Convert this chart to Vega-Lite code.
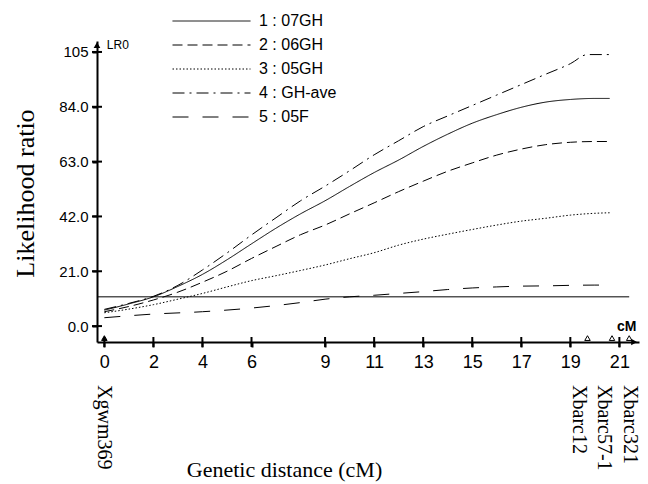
{
  "$schema": "https://vega.github.io/schema/vega-lite/v6.json",
  "width": 542,
  "height": 301,
  "autosize": {"type": "none"},
  "padding": {"left": 97, "top": 41, "right": 9, "bottom": 142},
  "background": "white",
  "config": {
    "view": {"stroke": null},
    "axis": {"grid": false, "domainColor": "black", "tickColor": "black", "labelColor": "black", "titleColor": "black"}
  },
  "datasets": {
    "curves": [
      {"series": "1 : 07GH", "cM": 0, "LR": 6.1}, {"series": "1 : 07GH", "cM": 1, "LR": 8.5}, {"series": "1 : 07GH", "cM": 2, "LR": 11.2}, {"series": "1 : 07GH", "cM": 3, "LR": 15.2}, {"series": "1 : 07GH", "cM": 4, "LR": 19.8}, {"series": "1 : 07GH", "cM": 5, "LR": 25.4}, {"series": "1 : 07GH", "cM": 6, "LR": 31.5}, {"series": "1 : 07GH", "cM": 7, "LR": 37.5}, {"series": "1 : 07GH", "cM": 8, "LR": 43}, {"series": "1 : 07GH", "cM": 9, "LR": 48}, {"series": "1 : 07GH", "cM": 10, "LR": 53.5}, {"series": "1 : 07GH", "cM": 11, "LR": 58.8}, {"series": "1 : 07GH", "cM": 12, "LR": 63.6}, {"series": "1 : 07GH", "cM": 13, "LR": 68.8}, {"series": "1 : 07GH", "cM": 14, "LR": 73.5}, {"series": "1 : 07GH", "cM": 15, "LR": 77.7}, {"series": "1 : 07GH", "cM": 16, "LR": 81}, {"series": "1 : 07GH", "cM": 17, "LR": 83.8}, {"series": "1 : 07GH", "cM": 18, "LR": 85.8}, {"series": "1 : 07GH", "cM": 19, "LR": 86.8}, {"series": "1 : 07GH", "cM": 20, "LR": 87.2}, {"series": "1 : 07GH", "cM": 20.6, "LR": 87.2},
      {"series": "2 : 06GH", "cM": 0, "LR": 5.5}, {"series": "2 : 06GH", "cM": 1, "LR": 7.5}, {"series": "2 : 06GH", "cM": 2, "LR": 10}, {"series": "2 : 06GH", "cM": 3, "LR": 13}, {"series": "2 : 06GH", "cM": 4, "LR": 16.8}, {"series": "2 : 06GH", "cM": 5, "LR": 21}, {"series": "2 : 06GH", "cM": 6, "LR": 25.9}, {"series": "2 : 06GH", "cM": 7, "LR": 30.5}, {"series": "2 : 06GH", "cM": 8, "LR": 35}, {"series": "2 : 06GH", "cM": 9, "LR": 38.7}, {"series": "2 : 06GH", "cM": 10, "LR": 43}, {"series": "2 : 06GH", "cM": 11, "LR": 47.2}, {"series": "2 : 06GH", "cM": 12, "LR": 51.5}, {"series": "2 : 06GH", "cM": 13, "LR": 55.5}, {"series": "2 : 06GH", "cM": 14, "LR": 59.3}, {"series": "2 : 06GH", "cM": 15, "LR": 62.5}, {"series": "2 : 06GH", "cM": 16, "LR": 65.5}, {"series": "2 : 06GH", "cM": 17, "LR": 67.8}, {"series": "2 : 06GH", "cM": 18, "LR": 69.5}, {"series": "2 : 06GH", "cM": 19, "LR": 70.4}, {"series": "2 : 06GH", "cM": 20, "LR": 70.7}, {"series": "2 : 06GH", "cM": 20.6, "LR": 70.7},
      {"series": "3 : 05GH", "cM": 0, "LR": 5.1}, {"series": "3 : 05GH", "cM": 1, "LR": 6.5}, {"series": "3 : 05GH", "cM": 2, "LR": 8.2}, {"series": "3 : 05GH", "cM": 3, "LR": 10.3}, {"series": "3 : 05GH", "cM": 4, "LR": 12.5}, {"series": "3 : 05GH", "cM": 5, "LR": 15}, {"series": "3 : 05GH", "cM": 6, "LR": 17.4}, {"series": "3 : 05GH", "cM": 7, "LR": 19.3}, {"series": "3 : 05GH", "cM": 8, "LR": 21.3}, {"series": "3 : 05GH", "cM": 9, "LR": 23.4}, {"series": "3 : 05GH", "cM": 10, "LR": 25.8}, {"series": "3 : 05GH", "cM": 11, "LR": 28.1}, {"series": "3 : 05GH", "cM": 12, "LR": 31}, {"series": "3 : 05GH", "cM": 13, "LR": 33.3}, {"series": "3 : 05GH", "cM": 14, "LR": 35.2}, {"series": "3 : 05GH", "cM": 15, "LR": 37}, {"series": "3 : 05GH", "cM": 16, "LR": 38.7}, {"series": "3 : 05GH", "cM": 17, "LR": 40.2}, {"series": "3 : 05GH", "cM": 18, "LR": 41.3}, {"series": "3 : 05GH", "cM": 19, "LR": 42.5}, {"series": "3 : 05GH", "cM": 20, "LR": 43.2}, {"series": "3 : 05GH", "cM": 20.6, "LR": 43.4},
      {"series": "4 : GH-ave", "cM": 0, "LR": 6.4}, {"series": "4 : GH-ave", "cM": 1, "LR": 8.7}, {"series": "4 : GH-ave", "cM": 2, "LR": 11.4}, {"series": "4 : GH-ave", "cM": 3, "LR": 15.6}, {"series": "4 : GH-ave", "cM": 4, "LR": 21.5}, {"series": "4 : GH-ave", "cM": 5, "LR": 28}, {"series": "4 : GH-ave", "cM": 6, "LR": 34.9}, {"series": "4 : GH-ave", "cM": 7, "LR": 41.5}, {"series": "4 : GH-ave", "cM": 8, "LR": 48}, {"series": "4 : GH-ave", "cM": 9, "LR": 53.6}, {"series": "4 : GH-ave", "cM": 10, "LR": 59.5}, {"series": "4 : GH-ave", "cM": 11, "LR": 65.6}, {"series": "4 : GH-ave", "cM": 12, "LR": 71}, {"series": "4 : GH-ave", "cM": 13, "LR": 76.4}, {"series": "4 : GH-ave", "cM": 14, "LR": 80.5}, {"series": "4 : GH-ave", "cM": 15, "LR": 84.5}, {"series": "4 : GH-ave", "cM": 16, "LR": 88.5}, {"series": "4 : GH-ave", "cM": 17, "LR": 92.5}, {"series": "4 : GH-ave", "cM": 18, "LR": 96.5}, {"series": "4 : GH-ave", "cM": 19, "LR": 100.5}, {"series": "4 : GH-ave", "cM": 19.7, "LR": 104}, {"series": "4 : GH-ave", "cM": 20.6, "LR": 104},
      {"series": "5 : 05F", "cM": 0, "LR": 3.2}, {"series": "5 : 05F", "cM": 2, "LR": 4.6}, {"series": "5 : 05F", "cM": 4, "LR": 5.5}, {"series": "5 : 05F", "cM": 6, "LR": 6.9}, {"series": "5 : 05F", "cM": 8, "LR": 9}, {"series": "5 : 05F", "cM": 9, "LR": 10.3}, {"series": "5 : 05F", "cM": 10, "LR": 11.2}, {"series": "5 : 05F", "cM": 11, "LR": 11.8}, {"series": "5 : 05F", "cM": 12, "LR": 12.5}, {"series": "5 : 05F", "cM": 13, "LR": 13.2}, {"series": "5 : 05F", "cM": 14, "LR": 14}, {"series": "5 : 05F", "cM": 15, "LR": 14.6}, {"series": "5 : 05F", "cM": 16, "LR": 15}, {"series": "5 : 05F", "cM": 17, "LR": 15.3}, {"series": "5 : 05F", "cM": 18, "LR": 15.4}, {"series": "5 : 05F", "cM": 19, "LR": 15.6}, {"series": "5 : 05F", "cM": 20, "LR": 15.7}, {"series": "5 : 05F", "cM": 20.6, "LR": 15.7}
    ],
    "markers": [
      {"marker": "Xgwm369", "cM": 0, "labelCM": 0},
      {"marker": "Xbarc12", "cM": 19.7, "labelCM": 19.35},
      {"marker": "Xbarc57-1", "cM": 20.7, "labelCM": 20.37},
      {"marker": "Xbarc321", "cM": 21.4, "labelCM": 21.45}
    ],
    "xticks": [{"cM": 0}, {"cM": 2}, {"cM": 4}, {"cM": 6}, {"cM": 9}, {"cM": 11}, {"cM": 13}, {"cM": 15}, {"cM": 17}, {"cM": 19}, {"cM": 21}],
    "yticks": [{"LR": 0}, {"LR": 21}, {"LR": 42}, {"LR": 63}, {"LR": 84}, {"LR": 105}],
    "one": [{}]
  },
  "layer": [
    {
      "data": {"name": "curves"},
      "mark": {"type": "line", "interpolate": "monotone", "strokeWidth": 1, "color": "black"},
      "encoding": {
        "x": {
          "field": "cM", "type": "quantitative",
          "scale": {"domain": [-0.3, 21.8], "nice": false, "zero": false},
          "axis": {
            "orient": "bottom",
            "values": [0, 2, 4, 6, 9, 11, 13, 15, 17, 19, 21],
            "format": "d", "domainWidth": 2, "tickWidth": 2, "tickSize": 5,
            "labelFont": "Liberation Sans Narrow, Liberation Sans, sans-serif", "labelFontSize": 18,
            "labelPadding": 6, "labelFlush": false, "labelOverlap": false,
            "title": "Genetic distance (cM)", "titleFont": "Liberation Serif", "titleFontSize": 22, "titleFontWeight": "normal",
            "titleX": 187, "titleY": 134, "titleBaseline": "alphabetic", "titleAlign": "center"
          }
        },
        "y": {
          "field": "LR", "type": "quantitative",
          "scale": {"domain": [-6.1, 109.2], "nice": false, "zero": false},
          "axis": {
            "orient": "left",
            "values": [0, 21, 42, 63, 84, 105],
            "labelExpr": "datum.value == 105 ? '105' : format(datum.value, '.1f')",
            "domainWidth": 2, "tickWidth": 2, "tickSize": 5,
            "labelFont": "Liberation Sans", "labelFontSize": 15, "labelPadding": 4, "labelFlush": false, "labelOverlap": false,
            "title": "Likelihood ratio", "titleFont": "Liberation Serif", "titleFontSize": 26, "titleFontWeight": "normal",
            "titleAngle": 270, "titleX": -72, "titleY": 152, "titleAlign": "center", "titleBaseline": "middle"
          }
        },
        "strokeDash": {
          "field": "series", "type": "nominal",
          "scale": {
            "domain": ["1 : 07GH", "2 : 06GH", "3 : 05GH", "4 : GH-ave", "5 : 05F"],
            "range": [[1, 0], [10, 5], [1.5, 2], [12, 5, 2, 5], [16, 14]]
          },
          "legend": {
            "orient": "none", "legendX": 75, "legendY": -32, "title": null,
            "symbolType": "stroke", "symbolSize": 6084, "symbolStrokeColor": "black", "symbolStrokeWidth": 1,
            "clipHeight": 24, "rowPadding": 0, "padding": 0,
            "labelFont": "Liberation Sans", "labelFontSize": 16, "labelOffset": 8, "labelColor": "black"
          }
        }
      }
    },
    {
      "data": {"name": "one"},
      "mark": {"type": "rule", "color": "black", "strokeWidth": 1},
      "encoding": {
        "x": {"datum": -0.3, "type": "quantitative"},
        "x2": {"datum": 21.4},
        "y": {"datum": 11.2, "type": "quantitative"}
      }
    },
    {
      "data": {"name": "xticks"},
      "mark": {"type": "tick", "orient": "vertical", "size": 10, "thickness": 2, "color": "black", "opacity": 1},
      "encoding": {
        "x": {"field": "cM", "type": "quantitative"},
        "y": {"datum": -6.1, "type": "quantitative"}
      }
    },
    {
      "data": {"name": "yticks"},
      "mark": {"type": "tick", "orient": "horizontal", "size": 10, "thickness": 2, "color": "black", "opacity": 1},
      "encoding": {
        "x": {"datum": -0.3, "type": "quantitative"},
        "y": {"field": "LR", "type": "quantitative"}
      }
    },
    {
      "data": {"name": "markers"},
      "mark": {"type": "point", "shape": "triangle-up", "size": 30, "stroke": "black", "strokeWidth": 1, "opacity": 1},
      "encoding": {
        "x": {"field": "cM", "type": "quantitative"},
        "y": {"datum": -4.6, "type": "quantitative"},
        "fill": {"condition": {"test": "datum.cM === 0", "value": "black"}, "value": "white"}
      }
    },
    {
      "data": {"name": "markers"},
      "mark": {"type": "text", "angle": 90, "align": "left", "baseline": "middle", "font": "Liberation Serif", "fontSize": 20, "color": "black", "clip": false},
      "encoding": {
        "x": {"field": "labelCM", "type": "quantitative"},
        "y": {"datum": -22.6, "type": "quantitative"},
        "text": {"field": "marker"}
      }
    },
    {
      "data": {"name": "one"},
      "mark": {"type": "point", "shape": "triangle-up", "size": 45, "filled": true, "color": "black", "opacity": 1},
      "encoding": {"x": {"datum": -0.3, "type": "quantitative"}, "y": {"datum": 107.6, "type": "quantitative"}}
    },
    {
      "data": {"name": "one"},
      "mark": {"type": "point", "shape": "triangle-right", "size": 45, "filled": true, "color": "black", "opacity": 1},
      "encoding": {"x": {"datum": 21.6, "type": "quantitative"}, "y": {"datum": -6.1, "type": "quantitative"}}
    },
    {
      "data": {"name": "one"},
      "mark": {"type": "text", "text": "LR0", "align": "left", "baseline": "middle", "font": "Liberation Sans", "fontSize": 12, "color": "black"},
      "encoding": {"x": {"datum": 0.1, "type": "quantitative"}, "y": {"datum": 107.5, "type": "quantitative"}}
    },
    {
      "data": {"name": "one"},
      "mark": {"type": "text", "text": "cM", "align": "left", "baseline": "middle", "font": "Liberation Sans", "fontSize": 14, "fontWeight": "bold", "color": "black"},
      "encoding": {"x": {"datum": 20.9, "type": "quantitative"}, "y": {"datum": -0.4, "type": "quantitative"}}
    }
  ]
}
